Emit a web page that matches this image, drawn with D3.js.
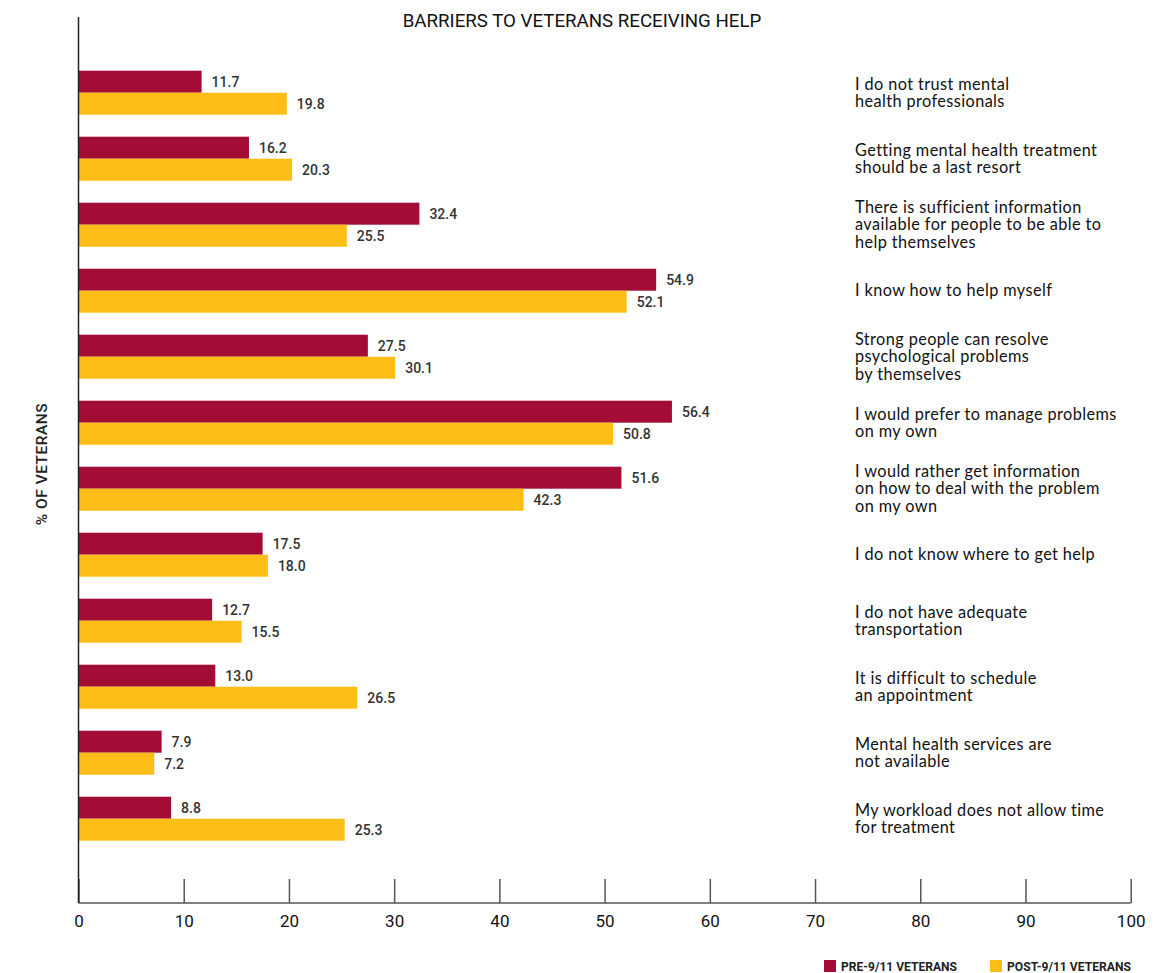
<!DOCTYPE html>
<html><head><meta charset="utf-8">
<script src="https://cdn.jsdelivr.net/npm/d3@7"></script>
<style>body{margin:0;background:#fff;}</style>
</head><body>
<svg id="chart" width="1160" height="973"></svg>
<script>
const categories = [
  ["I do not trust mental", "health professionals"],
  ["Getting mental health treatment", "should be a last resort"],
  ["There is sufficient information", "available for people to be able to", "help themselves"],
  ["I know how to help myself"],
  ["Strong people can resolve", "psychological problems", "by themselves"],
  ["I would prefer to manage problems", "on my own"],
  ["I would rather get information", "on how to deal with the problem", "on my own"],
  ["I do not know where to get help"],
  ["I do not have adequate", "transportation"],
  ["It is difficult to schedule", "an appointment"],
  ["Mental health services are", "not available"],
  ["My workload does not allow time", "for treatment"]
];
const preValues  = [11.7, 16.2, 32.4, 54.9, 27.5, 56.4, 51.6, 17.5, 12.7, 13.0, 7.9, 8.8];
const postValues = [19.8, 20.3, 25.5, 52.1, 30.1, 50.8, 42.3, 18.0, 15.5, 26.5, 7.2, 25.3];
const seriesNames = ["PRE-9/11 VETERANS", "POST-9/11 VETERANS"];
const seriesColors = ["#A30D35", "#FDBD17"];
const xTicks = [0, 10, 20, 30, 40, 50, 60, 70, 80, 90, 100];
const titleText = "BARRIERS TO VETERANS RECEIVING HELP";
const yLabel = "% OF VETERANS";

const svg = d3.select("#chart");
const x = d3.scaleLinear().domain([0, 100]).range([78.5, 1130.7]);
const idx = categories.map((d, i) => i);
const y = d3.scaleBand().domain(idx).range([59.7, 851.7]).paddingInner(1/3).paddingOuter(1/6);
const sub = d3.scaleBand().domain([0, 1]).range([0, y.bandwidth()]);
const axisY = 903;

// title
svg.append("text").attr("x", 582).attr("y", 27).attr("text-anchor", "middle")
  .attr("font-family", "Roboto").attr("font-size", 18.7).attr("fill", "#111").text(titleText);

// y label
svg.append("text").attr("transform", "translate(47,464) rotate(-90)").attr("text-anchor", "middle")
  .attr("font-family", "Roboto").attr("font-weight", 500).attr("font-size", 15.5).attr("fill", "#222").attr("letter-spacing", 0.5).text(yLabel);

// bars
const series = [preValues, postValues];
series.forEach((vals, s) => {
  const g = svg.append("g");
  g.selectAll("rect").data(vals).join("rect")
    .attr("x", x(0)).attr("y", (d, i) => y(i) + sub(s))
    .attr("width", d => x(d) - x(0)).attr("height", sub.bandwidth())
    .attr("fill", seriesColors[s]);
  g.selectAll("text").data(vals).join("text")
    .attr("x", d => x(d) + 10).attr("y", (d, i) => y(i) + sub(s) + sub.bandwidth() / 2)
    .attr("dy", "0.35em").attr("font-family", "Roboto").attr("font-weight", 500)
    .attr("font-size", 14).attr("fill", "#333").text(d => d.toFixed(1));
});

// x axis
const xAxis = d3.axisBottom(x).tickValues(xTicks).tickSize(24).tickPadding(6).tickFormat(d3.format("d"));
const ax = svg.append("g").attr("transform", `translate(0,${axisY})`).call(xAxis);
ax.select(".domain").remove();
ax.selectAll(".tick line").attr("y1", -24).attr("y2", 0).attr("stroke", "#555").attr("stroke-width", 1.5);
ax.selectAll(".tick text").attr("y", 24).attr("dy", 0).attr("font-family", "Roboto").attr("font-size", 17).attr("fill", "#111");
svg.append("line").attr("x1", x(0)).attr("x2", x(100)).attr("y1", axisY).attr("y2", axisY).attr("stroke", "#555").attr("stroke-width", 1.5);
svg.append("line").attr("x1", x(0)).attr("x2", x(0)).attr("y1", 17).attr("y2", axisY).attr("stroke", "#222").attr("stroke-width", 1.5);

// category labels
const lab = svg.append("g");
categories.forEach((lines, i) => {
  const cy = y(i) + y.bandwidth() / 2;
  const lh = 17.5;
  const t = lab.append("text").attr("x", 855).attr("font-family", "Lato").attr("font-size", 16.3)
    .attr("letter-spacing", 0.4).attr("fill", "#111");
  lines.forEach((ln, k) => {
    t.append("tspan").attr("x", 855).attr("y", cy + (k - (lines.length - 1) / 2) * lh).attr("dy", "0.35em").text(ln);
  });
});

// legend
const legX = [824, 990];
const legW = [116, 124];
seriesNames.forEach((n, s) => {
  svg.append("rect").attr("x", legX[s]).attr("y", 960).attr("width", 12).attr("height", 12).attr("fill", seriesColors[s]);
  svg.append("text").attr("x", legX[s] + 17).attr("y", 971).attr("font-family", "Roboto").attr("font-weight", 700)
    .attr("font-size", 12.5).attr("fill", "#222").attr("textLength", legW[s]).attr("lengthAdjust", "spacingAndGlyphs").text(n);
});
</script>
</body></html>
